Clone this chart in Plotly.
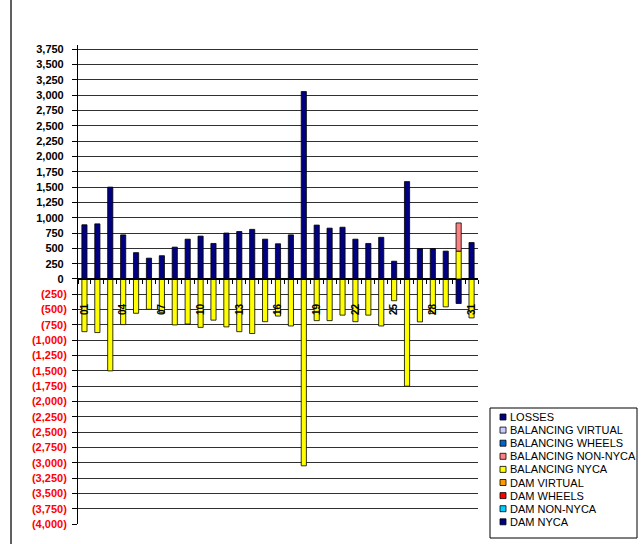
import plotly.graph_objects as go

# ---------------- data ----------------
days = ["01", "02", "03", "04", "05", "06", "07", "08", "09", "10",
        "11", "12", "13", "14", "15", "16", "17", "18", "19", "20",
        "21", "22", "23", "24", "25", "26", "27", "28", "29", "30", "31"]

dam_nyca = [885, 900, 1500, 720, 430, 340, 380, 520, 650, 700,
            580, 750, 775, 810, 650, 575, 720, 3060, 880, 830,
            845, 650, 580, 680, 290, 1590, 495, 495, 455, -400, 595]
dam_non_nyca = [0] * 31
dam_wheels = [0] * 31
dam_virtual = [0] * 31
bal_nyca = [-860, -875, -1500, -745, -560, -495, -550, -750, -735, -790,
            -672, -782, -860, -890, -697, -605, -767, -3050, -680, -680,
            -590, -697, -590, -767, -355, -1750, -700, -565, -455, 455, -635]
bal_non_nyca = [0, 0, 0, 0, 0, 0, 0, 0, 0, 0,
                0, 0, 0, 0, 0, 0, 0, 0, 0, 0,
                0, 0, 0, 0, 0, 0, 0, 0, 0, 460, 0]
bal_wheels = [0] * 31
bal_virtual = [0] * 31
losses = [0] * 31

series_names = ["DAM NYCA", "DAM NON-NYCA", "DAM WHEELS", "DAM VIRTUAL",
                "BALANCING NYCA", "BALANCING NON-NYCA", "BALANCING WHEELS",
                "BALANCING VIRTUAL", "LOSSES"]
series_values = [dam_nyca, dam_non_nyca, dam_wheels, dam_virtual,
                 bal_nyca, bal_non_nyca, bal_wheels, bal_virtual, losses]
series_colors = ["#000080", "#00CCFF", "#FF0000", "#FF9900",
                 "#FFFF00", "#FF8080", "#0066CC", "#CCCCFF", "#000080"]

label_every = 3
y_min, y_max, y_step = -4000, 3750, 250

# ---------------- layout geometry ----------------
W, H = 641, 544
ML, MR, MT, MB = 78, 163, 45, 20
Y_RANGE = [-4000, 3820]
FONT = "Liberation Sans, Arial, sans-serif"


def px_x(p):
    return (p - ML) / (W - ML - MR)


def px_y(p):
    return 1 - (p - MT) / (H - MT - MB)


x_pos = list(range(1, len(days) + 1))

fig = go.Figure()
for name, vals, col in zip(series_names, series_values, series_colors):
    fig.add_trace(go.Bar(
        x=x_pos,
        y=[v if v != 0 else None for v in vals],
        name=name,
        width=0.4,
        marker=dict(color=col, line=dict(color="#000000", width=0.8)),
        showlegend=False,
    ))

# y tick labels
y_ticks = list(range(y_min, y_max + 1, y_step))
y_text = []
for v in y_ticks:
    if v < 0:
        y_text.append('<span style="color:#FF0000">(%s)</span>' % format(-v, ","))
    else:
        y_text.append(format(v, ",") + "\u00a0")

zero_frac = (0 - Y_RANGE[0]) / (Y_RANGE[1] - Y_RANGE[0])

fig.update_layout(
    width=W, height=H,
    margin=dict(l=ML, r=MR, t=MT, b=MB, pad=0),
    paper_bgcolor="white", plot_bgcolor="white",
    barmode="relative",
    font=dict(family=FONT, color="black"),
    xaxis=dict(
        range=[0.5, len(days) + 0.5],
        tickmode="array",
        tickvals=x_pos[::label_every],
        ticktext=days[::label_every],
        tickangle=-90,
        ticks="",
        tickfont=dict(family=FONT, size=10, color="black", weight="bold"),
        ticklabelstandoff=20,
        showgrid=False, zeroline=False,
        showline=True, linecolor="black", linewidth=1,
        anchor="free", position=zero_frac,
        minor=dict(tickmode="array",
                   tickvals=[i + 0.5 for i in range(0, len(days) + 1)],
                   ticks="outside", ticklen=4, tickcolor="black",
                   tickwidth=1, showgrid=False),
        fixedrange=True,
    ),
    yaxis=dict(
        range=Y_RANGE,
        tickmode="array", tickvals=y_ticks, ticktext=y_text,
        ticks="outside", ticklen=5, tickcolor="black", tickwidth=1,
        tickfont=dict(family=FONT, size=11, color="black", weight="bold"),
        ticklabelstandoff=3,
        showgrid=True, gridcolor="#303030", gridwidth=1,
        zeroline=True, zerolinecolor="black", zerolinewidth=1,
        showline=True, linecolor="black", linewidth=1,
        fixedrange=True,
    ),
)

shapes = []
annotations = []
# outer chart-area border on the left
shapes.append(dict(type="line", xref="paper", yref="paper",
                   x0=px_x(11), x1=px_x(11), y0=px_y(0), y1=px_y(H),
                   line=dict(color="#606060", width=2), layer="above"))

# custom legend (Excel style, reversed order)
box = dict(x0=490, x1=637, y0=408, y1=538)
shapes.append(dict(type="rect", xref="paper", yref="paper",
                   x0=px_x(box["x0"]), x1=px_x(box["x1"]),
                   y0=px_y(box["y1"]), y1=px_y(box["y0"]),
                   line=dict(color="black", width=1), fillcolor="white",
                   layer="above"))
row0, row_h = 417, 13.1
for i, (name, col) in enumerate(zip(series_names[::-1], series_colors[::-1])):
    yc = row0 + i * row_h
    shapes.append(dict(type="rect", xref="paper", yref="paper",
                       x0=px_x(500), x1=px_x(506),
                       y0=px_y(yc + 3), y1=px_y(yc - 3),
                       line=dict(color="black", width=0.8), fillcolor=col,
                       layer="above"))
    annotations.append(dict(xref="paper", yref="paper",
                            x=px_x(507.5), y=px_y(yc),
                            xanchor="left", yanchor="middle",
                            text=name, showarrow=False,
                            font=dict(family=FONT, size=11, color="black")))

fig.update_layout(shapes=shapes, annotations=annotations)

fig.write_html(
    "out.html",
    config={"displayModeBar": False, "staticPlot": True},
    post_script="document.body.style.margin='0';document.body.style.overflow='hidden';",
)
